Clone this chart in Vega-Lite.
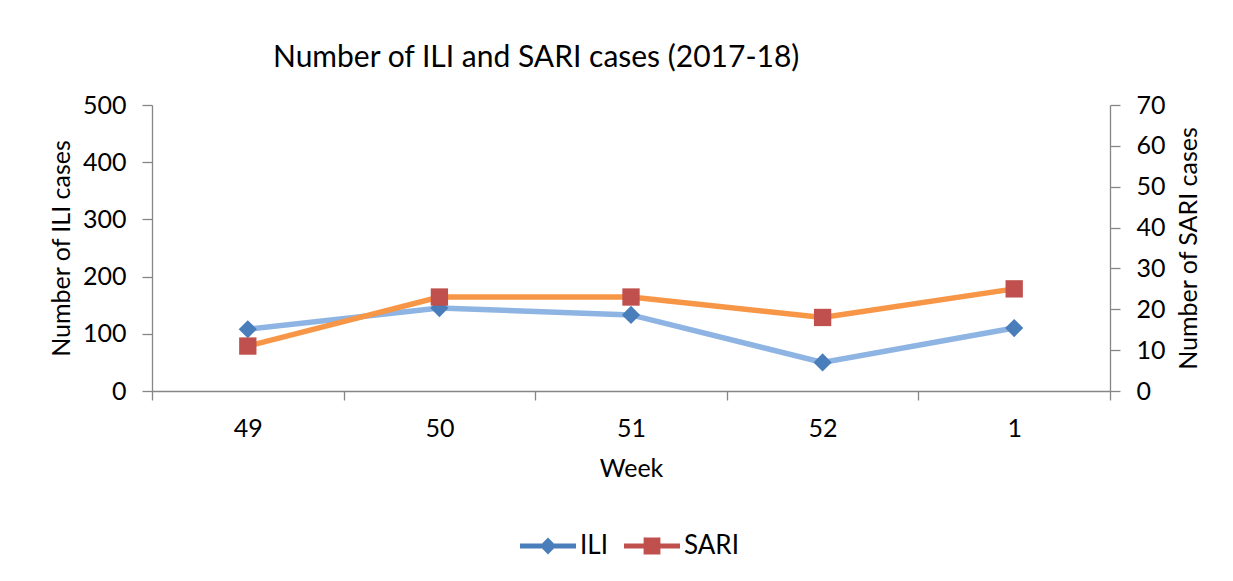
{
  "$schema": "https://vega.github.io/schema/vega-lite/v6.json",
  "autosize": "none",
  "width": 958,
  "height": 286,
  "padding": {"left": 152, "top": 105, "right": 123, "bottom": 190},
  "background": "white",
  "config": {
    "font": "Lato",
    "view": {"stroke": null},
    "axis": {
      "domainColor": "#868686",
      "tickColor": "#868686",
      "domainWidth": 1.3,
      "tickWidth": 1.3,
      "grid": false,
      "labelFont": "Lato",
      "labelFontSize": 25,
      "labelColor": "#000000",
      "titleFont": "Lato",
      "titleFontSize": 25,
      "titleFontWeight": "normal",
      "titleColor": "#000000"
    }
  },
  "title": {
    "text": "Number of ILI and SARI cases (2017-18)",
    "anchor": "start",
    "frame": "group",
    "dx": 121,
    "offset": 20,
    "fontSize": 30,
    "fontWeight": "normal",
    "font": "Lato",
    "color": "#000000"
  },
  "data": {
    "values": [
      {"week": "49", "ILI": 108, "SARI": 11},
      {"week": "50", "ILI": 145, "SARI": 23},
      {"week": "51", "ILI": 133, "SARI": 23},
      {"week": "52", "ILI": 50, "SARI": 18},
      {"week": "1", "ILI": 110, "SARI": 25}
    ]
  },
  "encoding": {
    "x": {
      "field": "week",
      "type": "ordinal",
      "sort": ["49", "50", "51", "52", "1"],
      "scale": {"type": "band", "paddingInner": 0, "paddingOuter": 0},
      "bandPosition": 0.5,
      "axis": {
        "title": "Week",
        "labelAngle": 0,
        "tickBand": "extent",
        "tickSize": 9,
        "labelPadding": 16,
        "titlePadding": 15
      }
    }
  },
  "layer": [
    {
      "encoding": {
        "y": {
          "field": "ILI",
          "type": "quantitative",
          "scale": {"domain": [0, 500], "nice": false},
          "axis": {
            "title": "Number of ILI cases",
            "orient": "left",
            "values": [0, 100, 200, 300, 400, 500],
            "tickSize": 10,
            "labelPadding": 16,
            "titlePadding": 8
          }
        }
      },
      "layer": [
        {"mark": {"type": "line", "color": "#8EB4E3", "strokeWidth": 5.5}},
        {"mark": {"type": "point", "shape": "diamond", "filled": true, "opacity": 1, "color": "#4A7EBB", "size": 330}}
      ]
    },
    {
      "encoding": {
        "y": {
          "field": "SARI",
          "type": "quantitative",
          "scale": {"domain": [0, 70], "nice": false},
          "axis": {
            "title": "Number of SARI cases",
            "orient": "right",
            "values": [0, 10, 20, 30, 40, 50, 60, 70],
            "tickSize": 10,
            "labelPadding": 16,
            "titlePadding": 11,
            "titleAngle": -90,
            "titleBaseline": "top"
          }
        }
      },
      "layer": [
        {"mark": {"type": "line", "color": "#F79646", "strokeWidth": 5.5}},
        {"mark": {"type": "point", "shape": "square", "filled": true, "opacity": 1, "color": "#C0504D", "size": 300}}
      ]
    },
    {
      "transform": [{"fold": ["ILI", "SARI"], "as": ["series", "value"]}],
      "mark": {"type": "point", "filled": true, "opacity": 0},
      "encoding": {
        "y": {"field": "value", "type": "quantitative", "axis": null},
        "fill": {
          "field": "series",
          "type": "nominal",
          "scale": {"domain": ["ILI", "SARI"], "range": ["#4A7EBB", "#C0504D"]},
          "legend": null
        },
        "shape": {
          "field": "series",
          "type": "nominal",
          "scale": {
            "domain": ["ILI", "SARI"],
            "range": [
              "M-1,-0.09L-0.21,-0.09L0,-0.3L0.21,-0.09L1,-0.09L1,0.09L0.21,0.09L0,0.3L-0.21,0.09L-1,0.09Z",
              "M-1,-0.09L-0.3,-0.09L-0.3,-0.3L0.3,-0.3L0.3,-0.09L1,-0.09L1,0.09L0.3,0.09L0.3,0.3L-0.3,0.3L-0.3,0.09L-1,0.09Z"
            ]
          },
          "legend": {
            "title": null,
            "orient": "none",
            "legendX": 368,
            "legendY": 413,
            "direction": "horizontal",
            "symbolSize": 3136,
            "symbolOpacity": 1,
            "symbolStrokeWidth": 0,
            "labelFontSize": 26,
            "labelFont": "Lato",
            "labelColor": "#000000",
            "labelOffset": 4,
            "columnPadding": 16
          }
        }
      }
    }
  ],
  "resolve": {"scale": {"y": "independent"}}
}
